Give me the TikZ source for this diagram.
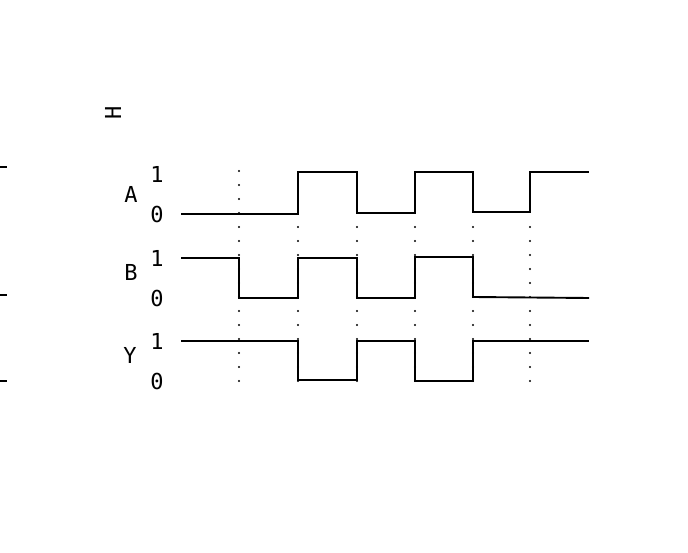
\documentclass[tikz,border=0pt]{standalone}
\usepackage{fontspec}
\setmonofont{DejaVu Sans Mono}
\begin{document}
\begin{tikzpicture}[x=1pt,y=-1pt,
  sig/.style={line width=1.9pt,line join=miter},
  dotmark/.style={fill=black,draw=none},
  lbl/.style={font=\ttfamily\fontsize{22}{22}\selectfont,inner sep=0pt},
  tick/.style={line width=1.9pt}]
\useasboundingbox (0,0) rectangle (688,553);
% top rotated H
\node[lbl,rotate=90] (h) at (113,113) {H};
% left ticks
\draw[tick] (0,167) -- (7,167);
\draw[tick] (0,295) -- (7,295);
\draw[tick] (0,381) -- (7,381);
% labels
\node[lbl] (la) at (131,194) {A};
\node[lbl] (a1) at (157,174) {1};
\node[lbl] (a0) at (157,214) {0};
\node[lbl] (lb) at (131,272) {B};
\node[lbl] (b1) at (157,258) {1};
\node[lbl] (b0) at (157,298) {0};
\node[lbl] (ly) at (130,355) {Y};
\node[lbl] (y1) at (157,341) {1};
\node[lbl] (y0) at (157,381) {0};
% dotted guides
\foreach \k in {0,...,15}
  \fill[dotmark] (239,171+14*\k) circle (1.1pt);
\foreach \x in {298,357,415,473,530}
  \foreach \k in {0,...,11}
    \fill[dotmark] (\x,227+14*\k) circle (1.1pt);
% signals
\draw[sig] (181,214) -- (298,214) -- (298,172) -- (357,172) -- (357,213) -- (415,213) -- (415,172) -- (473,172) -- (473,212) -- (530,212) -- (530,172) -- (589,172);
\draw[sig] (181,258) -- (239,258) -- (239,298) -- (298,298) -- (298,258) -- (357,258) -- (357,298) -- (415,298) -- (415,257) -- (473,257) -- (473,297) -- (589,298);
\draw[sig] (181,341) -- (298,341) -- (298,380) -- (357,380) -- (357,341) -- (415,341) -- (415,381) -- (473,381) -- (473,341) -- (589,341);
\end{tikzpicture}
\end{document}
